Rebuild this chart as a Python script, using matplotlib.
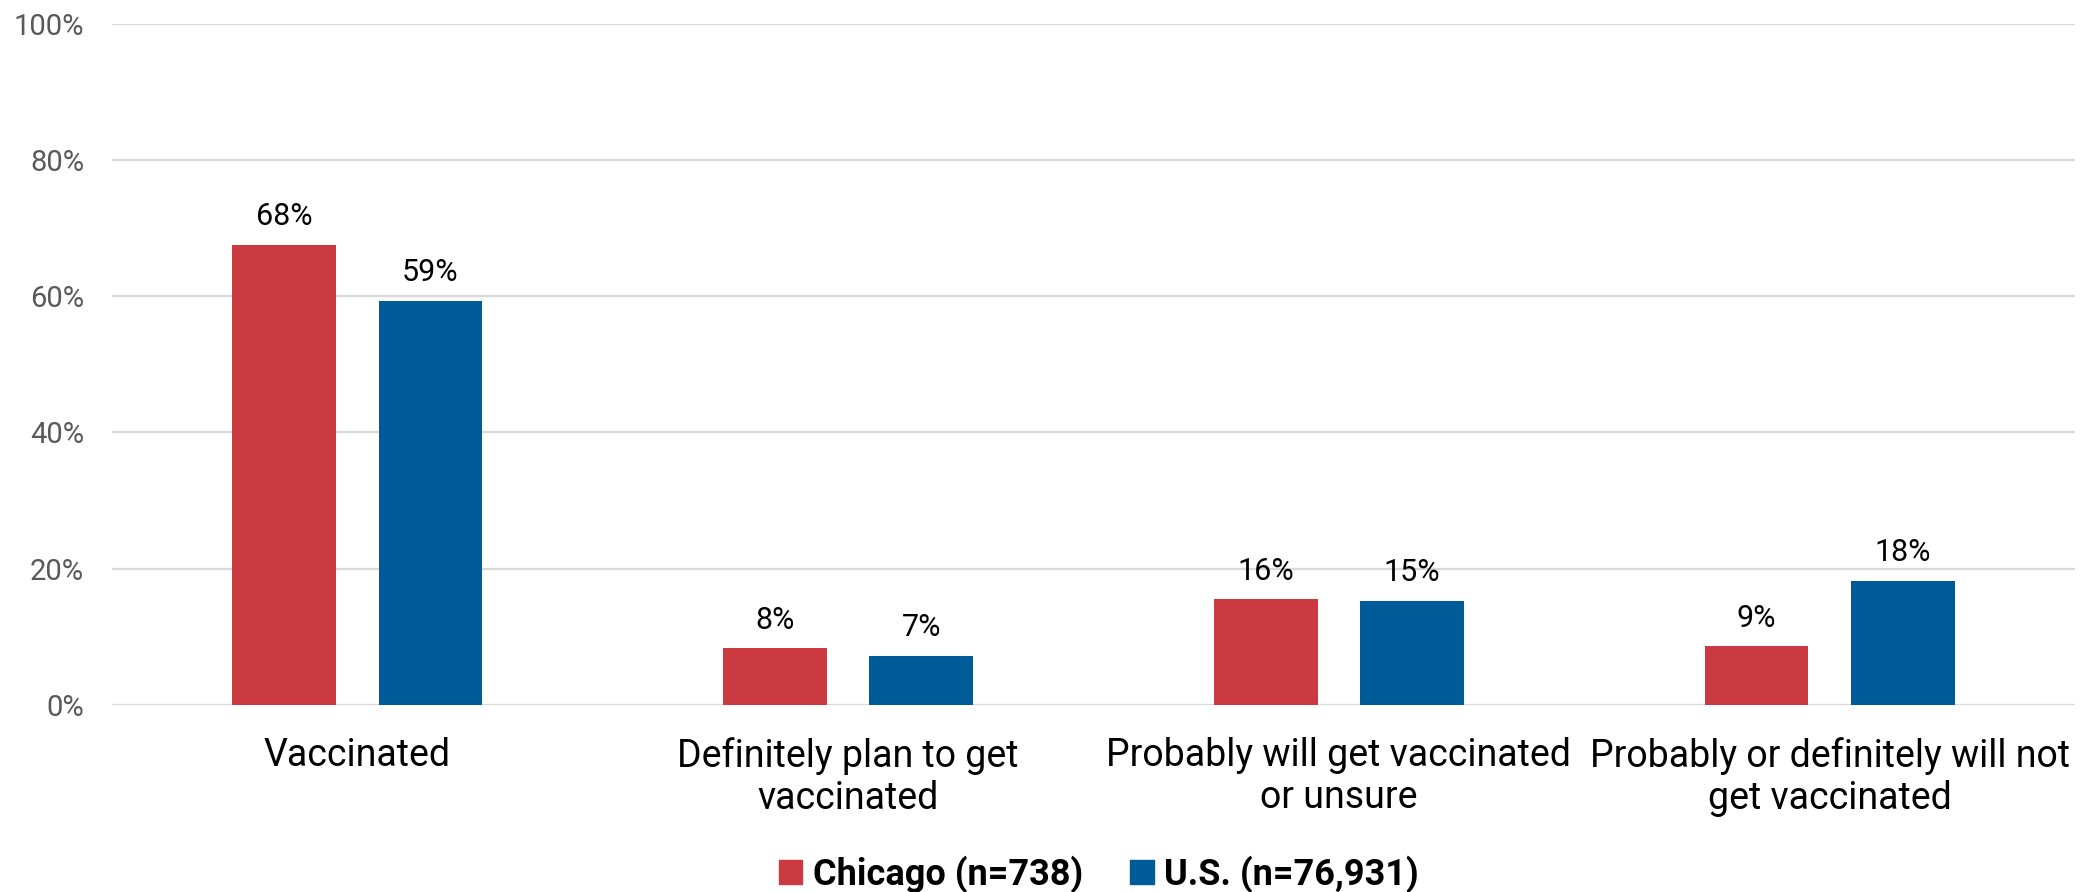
import matplotlib
matplotlib.use('Agg')
import matplotlib.pyplot as plt
from matplotlib.patches import Patch
import numpy as np

categories = ["Vaccinated", "Definitely plan to get\nvaccinated",
              "Probably will get vaccinated\nor unsure", "Probably or definitely will not\nget vaccinated"]
chicago = [67.6, 8.3, 15.5, 8.6]
us = [59.3, 7.2, 15.3, 18.2]
series_names = ["Chicago (n=738)", "U.S. (n=76,931)"]
colors = ["#CC3A41", "#005B99"]
yticks = [0, 20, 40, 60, 80, 100]

plt.rcParams['font.family'] = ['Roboto', 'DejaVu Sans']

fig = plt.figure(figsize=(20.89, 8.92), dpi=100)
ax = fig.add_axes([0.0536, 0.210, 0.9397, 0.763])

x = np.arange(len(categories))
width = 0.211
offset = 0.149
for vals, off, col in [(chicago, -offset, colors[0]), (us, offset, colors[1])]:
    bars = ax.bar(x + off, vals, width, color=col, zorder=3)
    for b, v in zip(bars, vals):
        ax.text(b.get_x() + b.get_width() / 2, v + 2.0, f"{v:.0f}%",
                ha='center', va='bottom', fontsize=22, color='black')

ax.set_xlim(-0.5, len(categories) - 0.5)
ax.set_ylim(0, 100)
ax.set_yticks(yticks)
ax.set_yticklabels([f"{t}%" for t in yticks], fontsize=21, color='#595959')
ax.set_xticks(x)
ax.set_xticklabels(categories, fontsize=27, linespacing=1.2)
ax.tick_params(axis='both', length=0)
ax.tick_params(axis='y', pad=20)
ax.tick_params(axis='x', pad=23)
ax.yaxis.grid(True, color='#D9D9D9', linewidth=1.6, zorder=0)
for s in ax.spines.values():
    s.set_visible(False)

handles = [Patch(color=c) for c in colors]
leg = fig.legend(handles, series_names, loc='center', bbox_to_anchor=(0.526, 0.02),
                 ncol=2, frameon=False, handlelength=0.65, handleheight=0.65,
                 handletextpad=0.3, columnspacing=1.3,
                 prop={'size': 26, 'weight': 'bold'})

fig.savefig('out.png', dpi=100)
